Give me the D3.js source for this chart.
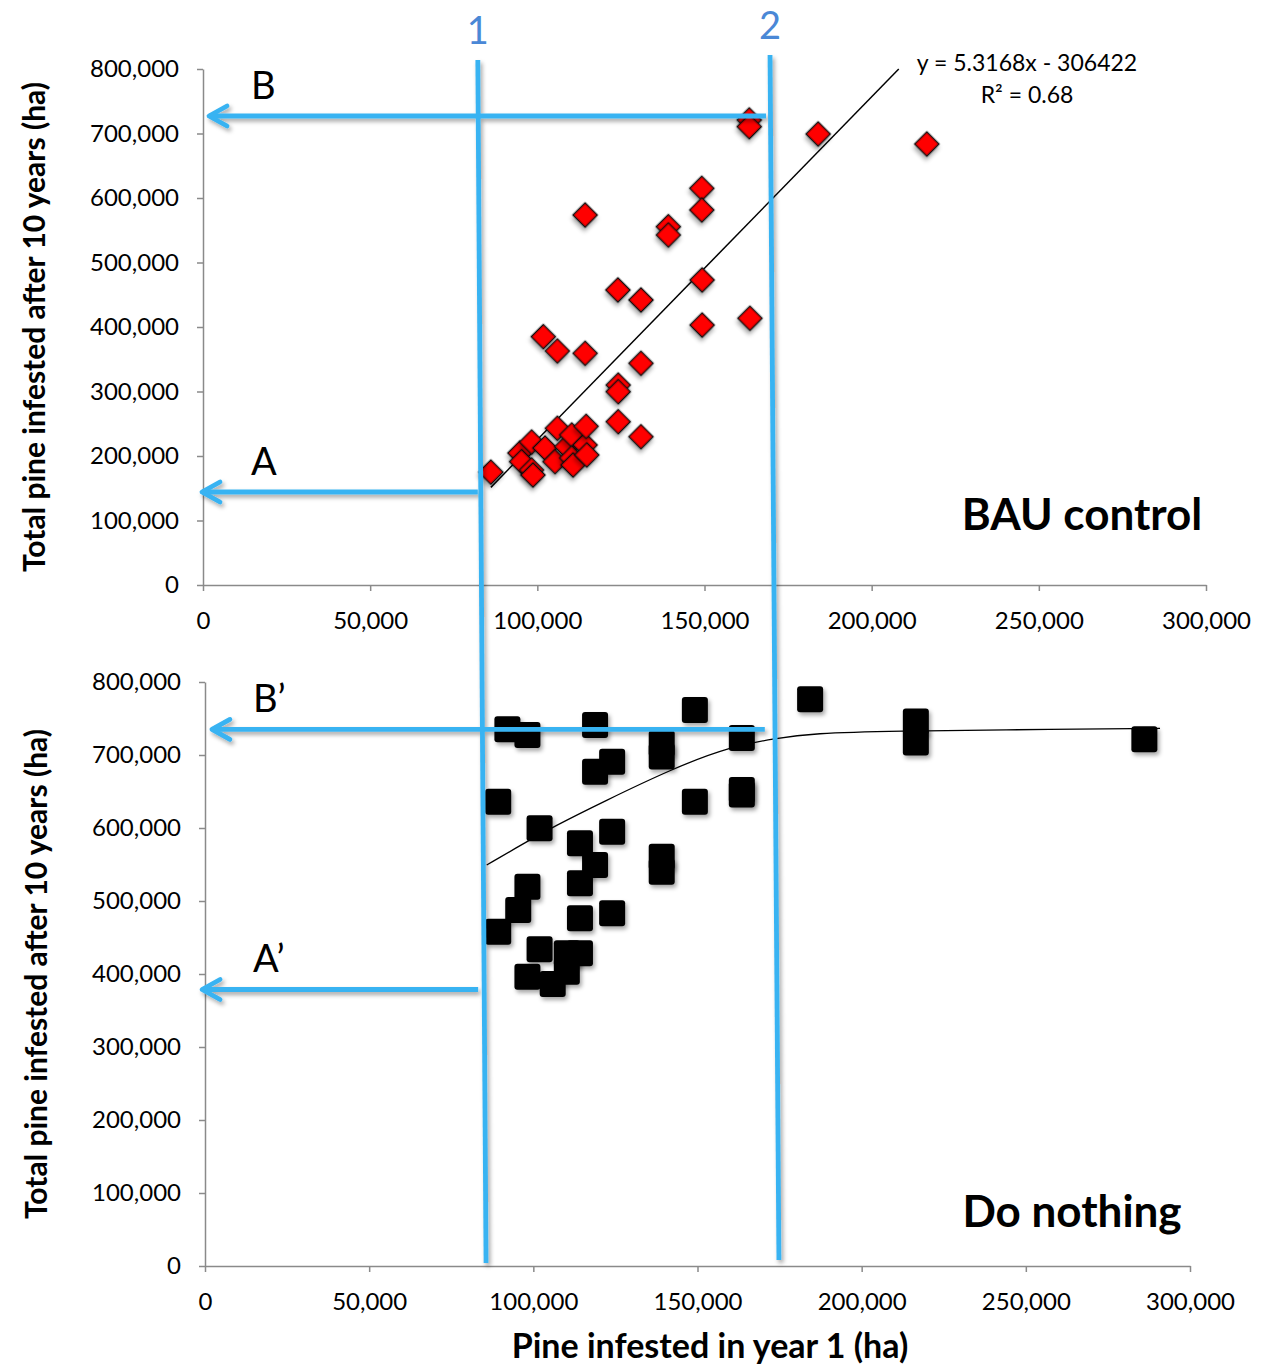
<!DOCTYPE html>
<html>
<head>
<meta charset="utf-8">
<script src="https://cdn.jsdelivr.net/npm/d3@7"></script>
<style>
  body { margin: 0; background: #fff; }
  svg { display: block; font-family: Lato, "Open Sans", sans-serif; }
  .axis path, .axis line { stroke: #8a8a8a; stroke-width: 1.5px; }
  .axis text { font-size: 24px; fill: #000; font-family: Lato, "Open Sans", sans-serif; }
</style>
</head>
<body>
<div id="chart"></div>
<script>
// BAU control panel (red diamonds)
var bauX = [86100, 94800, 95300, 98300, 98300, 98700, 102300, 105300, 106000, 108800,
            110300, 110300, 110700, 114300, 114600, 114800, 101800, 106000, 114300, 114300,
            124200, 124200, 124200, 124100, 131000, 131000, 131000, 139200, 139200, 149200,
            149200, 149300, 149300, 163600, 163400, 163400, 184000, 216500];
var bauY = [175000, 204600, 191200, 221700, 178300, 170500, 212400, 191200, 243000, 214400,
            232600, 196900, 186000, 217100, 246000, 201600, 385000, 362800, 359200, 573600,
            310000, 299700, 253200, 457400, 441900, 343700, 229900, 555500, 542600, 615000,
            581400, 472900, 403000, 413500, 721000, 710600, 699200, 683700];
var bauSlope = 5.3168, bauIntercept = -306422;

// Do nothing panel (black squares)
var doX = [89300, 89300, 92100, 95400, 98200, 98200, 98200, 101900, 101900, 105900,
           110200, 110200, 114200, 114200, 114200, 114200, 118800, 118800, 118800, 124000,
           124000, 124000, 139100, 139100, 139100, 139100, 149200, 149200, 163500, 163500,
           163500, 184300, 216500, 216500, 286100];
var doY = [458000, 636000, 735200, 487700, 727400, 519600, 396300, 599600, 433800, 386300,
           428400, 403200, 428400, 476300, 524300, 579100, 549300, 677100, 741100, 690800,
           595000, 483200, 715800, 698000, 560700, 540200, 761700, 636000, 723300, 652000,
           645800, 776300, 745900, 717100, 721500];
// fitted curve in the Do nothing panel
var doFitX = [85800, 97980, 106080, 121310, 142630, 159870, 174120, 184260, 212680, 240090, 290860];
var doFitY = [549300, 581200, 601700, 636000, 681800, 711400, 722900, 729700, 732900, 734300, 736600];

var xTicks = [0, 50000, 100000, 150000, 200000, 250000, 300000];
var yTicks = [0, 100000, 200000, 300000, 400000, 500000, 600000, 700000, 800000];

// guide lines 1 and 2 (x in top panel, x in bottom panel)
var guideLabels = ["1", "2"];
var guideTopX = [82200, 169600], guideTopY = [814000, 821700];
var guideBotX = [85600, 174800], guideBotY = [4100, 8200];
// arrows: from x, to x, y
var arrowLabels = ["B", "A", "B\u2019", "A\u2019"];
var arrowPanel = [0, 0, 1, 1];
var arrowFrom = [168400, 82200, 170500, 83200];
var arrowTo = [1200, -900, 1500, -1500];
var arrowY = [727100, 144200, 735000, 378800];

var width = 1265, height = 1366;
var svg = d3.select("#chart").append("svg")
  .attr("width", width).attr("height", height);

var defs = svg.append("defs");
var f = defs.append("filter").attr("id", "shadow")
  .attr("x", "-50%").attr("y", "-50%").attr("width", "200%").attr("height", "200%");
f.append("feDropShadow").attr("dx", 2).attr("dy", 3).attr("stdDeviation", 2)
  .attr("flood-color", "#000").attr("flood-opacity", 0.35);

var panels = [
  { left: 203, right: 1206, top: 69, bottom: 585, title: "BAU control", tx: 1082, ty: 513 },
  { left: 205, right: 1190, top: 682, bottom: 1266, title: "Do nothing", tx: 1072, ty: 1210 }
];
panels.forEach(function(p) {
  p.x = d3.scaleLinear().domain([0, 300000]).range([p.left, p.right]);
  p.y = d3.scaleLinear().domain([0, 800000]).range([p.bottom, p.top]);
});

function drawAxes(p) {
  svg.append("g").attr("class", "axis")
    .attr("transform", "translate(0," + p.bottom + ")")
    .call(d3.axisBottom(p.x).tickValues(xTicks).tickFormat(d3.format(","))
      .tickSize(6).tickSizeOuter(0).tickPadding(21));
  svg.append("g").attr("class", "axis")
    .attr("transform", "translate(" + p.left + ",0)")
    .call(d3.axisLeft(p.y).tickValues(yTicks).tickFormat(d3.format(","))
      .tickSize(6).tickSizeOuter(0).tickPadding(18));

  svg.append("text")
    .attr("transform", "translate(" + (p.left - 170) + "," + ((p.top + p.bottom) / 2) + ") rotate(-90)")
    .attr("text-anchor", "middle").attr("dominant-baseline", "central")
    .style("font-size", "30px").style("font-weight", "bold")
    .text("Total pine infested after 10 years (ha)");

  svg.append("text")
    .attr("x", p.tx).attr("y", p.ty)
    .attr("text-anchor", "middle").attr("dominant-baseline", "central")
    .style("font-size", "44px").style("font-weight", "bold")
    .text(p.title);
}
drawAxes(panels[0]);
drawAxes(panels[1]);

// top panel: trend line clipped at 800,000
var topP = panels[0];
var lineEnd = (800000 - bauIntercept) / bauSlope;
var lineStart = d3.min(bauX);
svg.append("line")
  .attr("x1", topP.x(lineStart)).attr("y1", topP.y(bauSlope * lineStart + bauIntercept))
  .attr("x2", topP.x(lineEnd)).attr("y2", topP.y(bauSlope * lineEnd + bauIntercept))
  .attr("stroke", "#000").attr("stroke-width", 1.5);

var diamond = d3.symbol().type(d3.symbolSquare).size(290);
svg.append("g").selectAll("path")
  .data(d3.range(bauX.length))
  .enter()
  .append("path")
    .attr("d", diamond)
    .attr("transform", function(i) { return "translate(" + topP.x(bauX[i]) + "," + topP.y(bauY[i]) + ") rotate(45)"; })
    .attr("fill", "#ff0000")
    .attr("stroke", "#111")
    .attr("stroke-width", 1.5)
    .attr("filter", "url(#shadow)");

svg.append("text").attr("x", 1027).attr("y", 62)
  .attr("text-anchor", "middle").attr("dominant-baseline", "central")
  .style("font-size", "23px").text("y = 5.3168x - 306422");
svg.append("text").attr("x", 1027).attr("y", 94)
  .attr("text-anchor", "middle").attr("dominant-baseline", "central")
  .style("font-size", "23px").text("R\u00b2 = 0.68");

// bottom panel: curve and squares
var botP = panels[1];
var curve = d3.line()
  .x(function(i) { return botP.x(doFitX[i]); })
  .y(function(i) { return botP.y(doFitY[i]); })
  .curve(d3.curveBasis);
svg.append("path")
  .attr("d", curve(d3.range(doFitX.length)))
  .attr("fill", "none").attr("stroke", "#000").attr("stroke-width", 1.3);

var sq = 26;
svg.append("g").selectAll("rect")
  .data(d3.range(doX.length))
  .enter()
  .append("rect")
    .attr("x", function(i) { return botP.x(doX[i]) - sq / 2; })
    .attr("y", function(i) { return botP.y(doY[i]) - sq / 2; })
    .attr("width", sq).attr("height", sq)
    .attr("rx", 3)
    .attr("fill", "#000")
    .attr("filter", "url(#shadow)");

// blue guides
var blue = "#39b3f2";
var ann = svg.append("g").attr("filter", "url(#shadow)");
for (var g = 0; g < 2; g++) {
  ann.append("line")
    .attr("x1", topP.x(guideTopX[g])).attr("y1", topP.y(guideTopY[g]))
    .attr("x2", botP.x(guideBotX[g])).attr("y2", botP.y(guideBotY[g]))
    .attr("stroke", blue).attr("stroke-width", 4.8);
  svg.append("text")
    .attr("x", topP.x(guideTopX[g])).attr("y", topP.y(guideTopY[g]) - 31)
    .attr("text-anchor", "middle").attr("dominant-baseline", "central")
    .style("font-size", "38px").style("fill", "#4a88d6")
    .text(guideLabels[g]);
}

for (var a = 0; a < arrowLabels.length; a++) {
  var p = panels[arrowPanel[a]];
  var x0 = p.x(arrowFrom[a]), x1 = p.x(arrowTo[a]), yy = p.y(arrowY[a]);
  ann.append("line")
    .attr("x1", x0).attr("y1", yy).attr("x2", x1 + 2).attr("y2", yy)
    .attr("stroke", blue).attr("stroke-width", 4.8);
  ann.append("path")
    .attr("d", "M" + (x1 + 20) + "," + (yy - 10) + "L" + (x1 + 2) + "," + yy + "L" + (x1 + 20) + "," + (yy + 10))
    .attr("fill", "none").attr("stroke", blue).attr("stroke-width", 4.8)
    .attr("stroke-linecap", "round").attr("stroke-linejoin", "round");
  svg.append("text")
    .attr("x", p.left + 48).attr("y", yy - 32)
    .attr("dominant-baseline", "central")
    .style("font-size", "38px")
    .text(arrowLabels[a]);
}

svg.append("text")
  .attr("x", 710).attr("y", 1344)
  .attr("text-anchor", "middle").attr("dominant-baseline", "central")
  .style("font-size", "34px").style("font-weight", "bold")
  .text("Pine infested in year 1 (ha)");
</script>
</body>
</html>
